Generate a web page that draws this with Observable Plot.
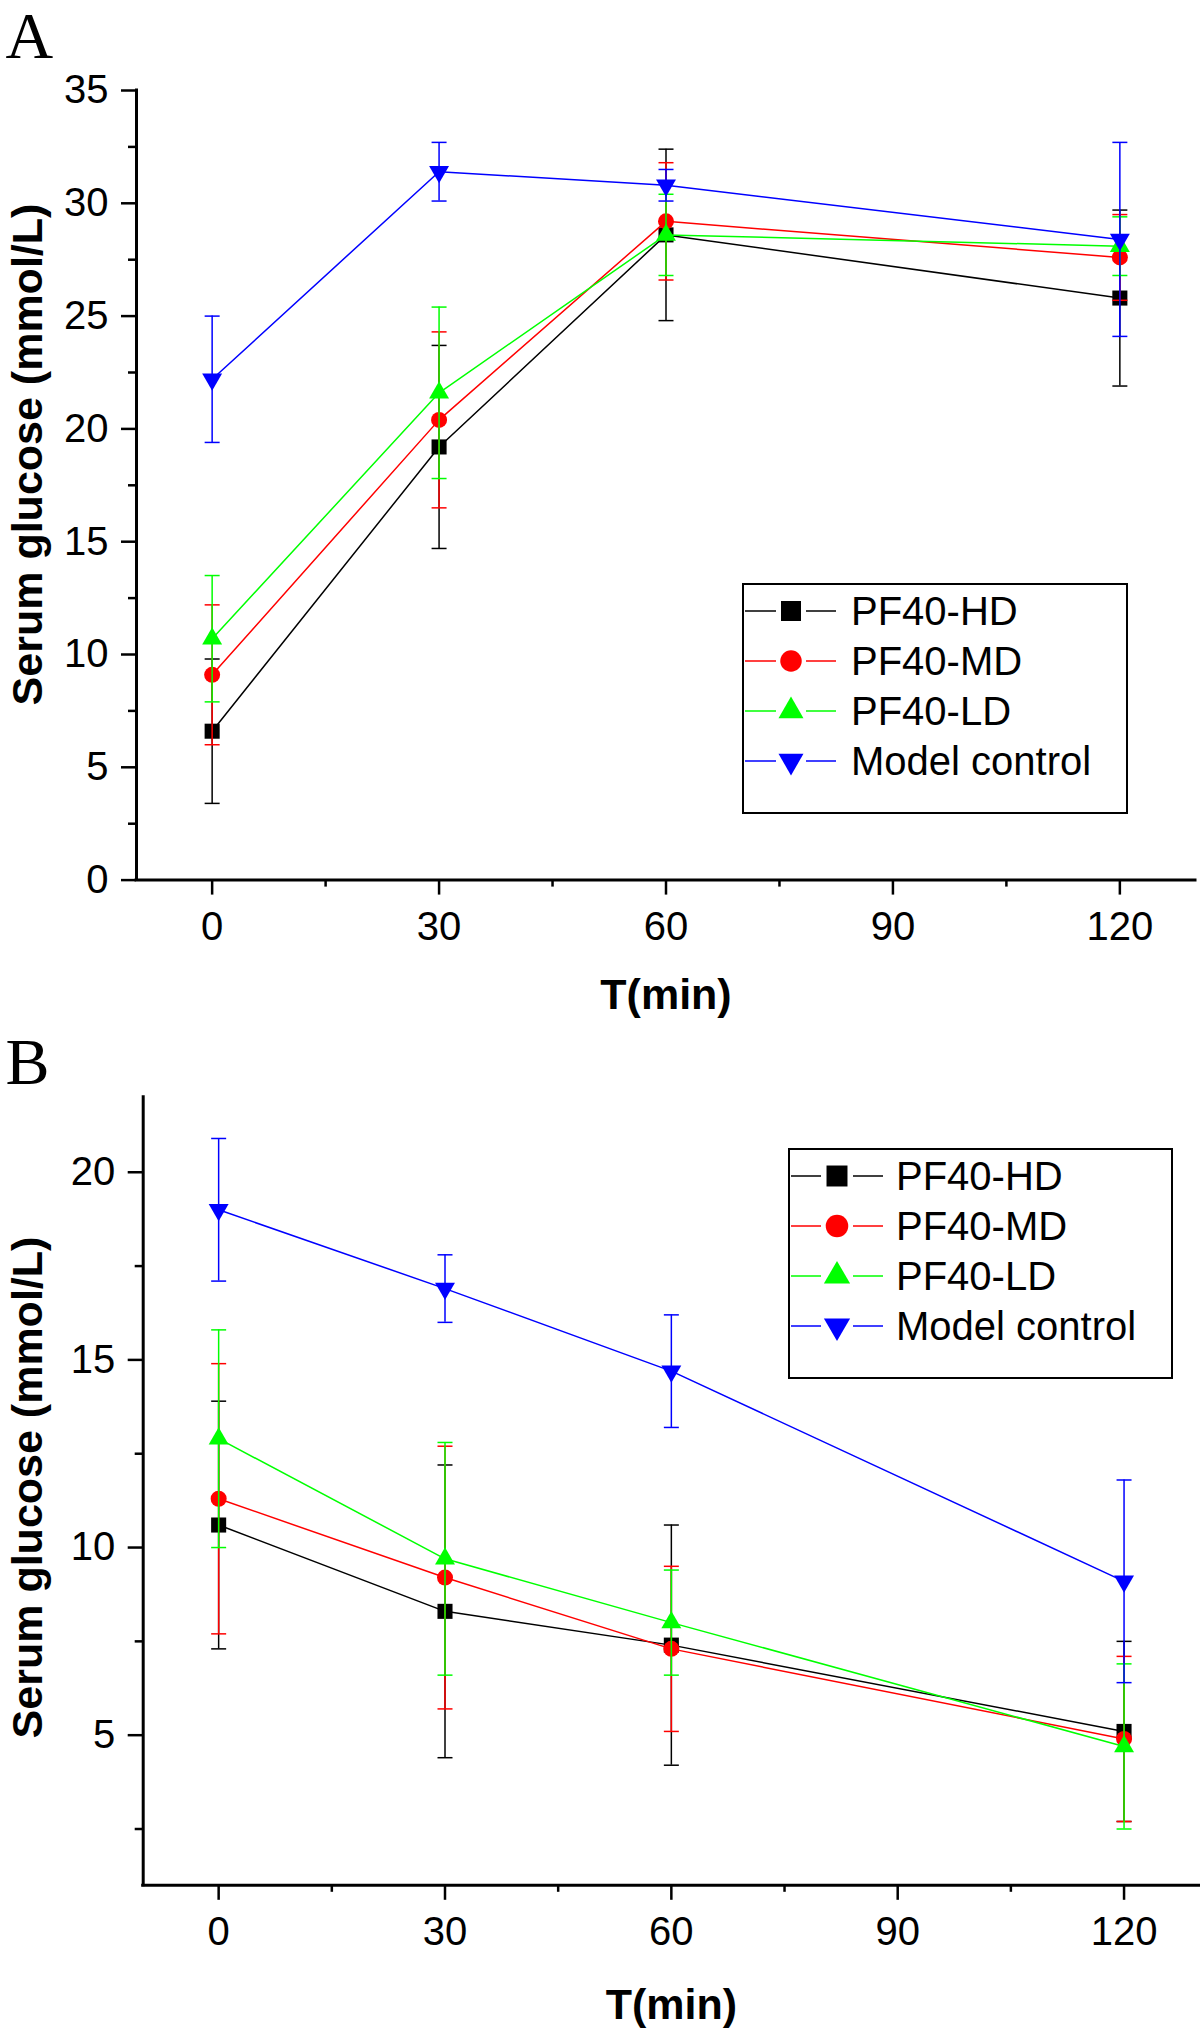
<!DOCTYPE html>
<html>
<head>
<meta charset="utf-8">
<script src="https://cdn.jsdelivr.net/npm/d3@7"></script>
<script src="https://cdn.jsdelivr.net/npm/@observablehq/plot@0.6"></script>
<style>
html, body { margin: 0; padding: 0; background: #fff; }
#root svg { display: block; }
</style>
</head>
<body>
<div id="root"></div>
<script>
// ---------- DATA ----------
const times = [0, 30, 60, 120];
const seriesNames = ["PF40-HD", "PF40-MD", "PF40-LD", "Model control"];
const seriesColors = ["#000000", "#ff0000", "#00ff00", "#0000ff"];
const seriesSymbols = ["square", "circle", "triangle", "triangleDown"];

// Panel A: mean and SD (mmol/L)
const aHD = [6.6, 19.2, 28.6, 25.8];
const aHDsd = [3.2, 4.5, 3.8, 3.9];
const aMD = [9.1, 20.4, 29.2, 27.6];
const aMDsd = [3.1, 3.9, 2.6, 1.9];
const aLD = [10.7, 21.6, 28.6, 28.1];
const aLDsd = [2.8, 3.8, 1.8, 1.3];
const aMC = [22.2, 31.4, 30.8, 28.4];
const aMCsd = [2.8, 1.3, 0.7, 4.3];

// Panel B: mean and SD (mmol/L)
const bHD = [10.6, 8.3, 7.4, 5.1];
const bHDsd = [3.3, 3.9, 3.2, 2.4];
const bMD = [11.3, 9.2, 7.3, 4.9];
const bMDsd = [3.6, 3.5, 2.2, 2.2];
const bLD = [12.9, 9.7, 8.0, 4.7];
const bLDsd = [2.9, 3.1, 1.4, 2.2];
const bMC = [19.0, 16.9, 14.7, 9.1];
const bMCsd = [1.9, 0.9, 1.5, 2.7];

// Axes
const xDomain = [-10, 130];
const xTicks = [0, 30, 60, 90, 120];
const xMinorTicks = [15, 45, 75, 105];
const aYDomain = [0, 35];
const aYTicks = [0, 5, 10, 15, 20, 25, 30, 35];
const aYMinorTicks = [2.5, 7.5, 12.5, 17.5, 22.5, 27.5, 32.5];
const bYDomain = [1, 22];
const bYTicks = [5, 10, 15, 20];
const bYMinorTicks = [2.5, 7.5, 12.5, 17.5];

const xTitle = "T(min)";
const yTitle = "Serum glucose (mmol/L)";

// ---------- SYMBOLS ----------
const SQ3 = Math.sqrt(3);
const triangleDown = {
  draw(ctx, size) {
    const y = Math.sqrt(size / (SQ3 * 3));
    ctx.moveTo(0, 2 * y);
    ctx.lineTo(-SQ3 * y, -y);
    ctx.lineTo(SQ3 * y, -y);
    ctx.closePath();
  }
};
const capSymbol = {
  draw(ctx) { ctx.moveTo(-7.5, 0); ctx.lineTo(7.5, 0); }
};
const symbolMap = { square: d3.symbolSquare, circle: d3.symbolCircle, triangle: d3.symbolTriangle, triangleDown };
const markerR = { square: 8.5, circle: 8, triangle: 7.4, triangleDown: 7.4 };
const legendSize = { square: 400, circle: 363, triangle: 270, triangleDown: 270 };

const SANS = "'Liberation Sans', Arial, Helvetica, sans-serif";
const SERIF = "'Liberation Serif', 'Times New Roman', serif";

function buildPanel(cfg) {
  const rows = [];
  seriesNames.forEach((name, si) => {
    times.forEach((t, i) => rows.push({ series: name, si, t, mean: cfg.means[si][i], sd: cfg.sds[si][i] }));
  });
  const marks = [
    Plot.axisY({ ticks: cfg.yMinor, tickSize: 8, tickFormat: () => "", strokeWidth: 2.5, label: null }),
    Plot.axisY({ ticks: cfg.yTicks, tickSize: 15, tickPadding: 13, fontSize: 40, strokeWidth: 2.5, label: null, tickFormat: d => String(d) }),
    Plot.axisX({ ticks: xMinorTicks, tickSize: 7, tickFormat: () => "", strokeWidth: 2.5, label: null }),
    Plot.axisX({ ticks: xTicks, tickSize: 15, tickPadding: 16, fontSize: 40, strokeWidth: 2.5, label: null, tickFormat: d => String(d) }),
    Plot.ruleX([xDomain[0]], { strokeWidth: 3, strokeLinecap: "square" }),
    Plot.ruleY([cfg.yDomain[0]], { strokeWidth: 3, strokeLinecap: "square" })
  ];
  seriesNames.forEach((name, si) => {
    const d = rows.filter(r => r.si === si);
    const c = seriesColors[si];
    const sym = seriesSymbols[si];
    marks.push(Plot.line(d, { x: "t", y: "mean", stroke: c, strokeWidth: 1.5 }));
    marks.push(Plot.ruleX(d, { x: "t", y1: r => r.mean - r.sd, y2: r => r.mean + r.sd, stroke: c, strokeWidth: 1.5 }));
    marks.push(Plot.dot(d, { x: "t", y: r => r.mean + r.sd, symbol: capSymbol, stroke: c, fill: "none", strokeWidth: 1.5 }));
    marks.push(Plot.dot(d, { x: "t", y: r => r.mean - r.sd, symbol: capSymbol, stroke: c, fill: "none", strokeWidth: 1.5 }));
    marks.push(Plot.dot(d, { x: "t", y: "mean", symbol: symbolMap[sym], r: markerR[sym], fill: c, stroke: "none" }));
  });
  marks.push(Plot.text([cfg.letter], { frameAnchor: "top-left", textAnchor: "start", lineAnchor: "bottom", dx: cfg.letterDx, dy: cfg.letterDy, fontSize: 66, fontFamily: SERIF }));
  marks.push(Plot.text([yTitle], { frameAnchor: "left", rotate: -90, textAnchor: "middle", lineAnchor: "bottom", dx: cfg.yTitleDx, dy: cfg.yTitleDy, fontSize: 43, fontWeight: "bold" }));
  marks.push(Plot.text([xTitle], { frameAnchor: "bottom", textAnchor: "middle", lineAnchor: "bottom", dy: cfg.xTitleDy, fontSize: 43, fontWeight: "bold" }));

  const svg = Plot.plot({
    width: 1200,
    height: cfg.height,
    marginLeft: cfg.ml, marginRight: cfg.mr, marginTop: cfg.mt, marginBottom: cfg.mb,
    x: { domain: xDomain, label: null },
    y: { domain: cfg.yDomain, label: null },
    style: { fontFamily: SANS, background: "white", color: "black", overflow: "visible" },
    marks
  });

  // legend
  const L = cfg.legend;
  const g = d3.select(svg).append("g").attr("font-family", SANS).attr("text-anchor", "start");
  g.append("rect").attr("x", L.x0).attr("y", L.y0).attr("width", L.x1 - L.x0).attr("height", L.y1 - L.y0)
    .attr("fill", "white").attr("stroke", "black").attr("stroke-width", 2);
  seriesNames.forEach((name, si) => {
    const y = L.row0 + si * L.step;
    const c = seriesColors[si];
    const sym = seriesSymbols[si];
    g.append("line").attr("x1", L.lx0).attr("x2", L.mx - L.gap).attr("y1", y).attr("y2", y).attr("stroke", c).attr("stroke-width", 1.5);
    g.append("line").attr("x1", L.mx + L.gap).attr("x2", L.lx1).attr("y1", y).attr("y2", y).attr("stroke", c).attr("stroke-width", 1.5);
    g.append("path").attr("transform", `translate(${L.mx},${y})`).attr("d", d3.symbol(symbolMap[sym], legendSize[sym] * L.scale)()).attr("fill", c);
    g.append("text").attr("x", L.tx).attr("y", y + 0.35 * L.fs).attr("font-size", L.fs)
      .attr("text-anchor", "start").attr("fill", "black").text(name);
  });
  return svg;
}

const root = document.getElementById("root");

root.appendChild(buildPanel({
  means: [aHD, aMD, aLD, aMC], sds: [aHDsd, aMDsd, aLDsd, aMCsd],
  yDomain: aYDomain, yTicks: aYTicks, yMinor: aYMinorTicks,
  height: 1024, ml: 136, mr: 5, mt: 90, mb: 144.4,
  letter: "A", letterDx: -131, letterDy: -33,
  yTitleDx: -95, yTitleDy: -30.8, xTitleDy: 128.4,
  legend: { x0: 743, x1: 1127, y0: 584, y1: 813, row0: 611, step: 50, lx0: 745, lx1: 836, mx: 791, gap: 15, tx: 851, fs: 40, scale: 1 }
}));

root.appendChild(buildPanel({
  means: [bHD, bMD, bLD, bMC], sds: [bHDsd, bMDsd, bLDsd, bMCsd],
  yDomain: bYDomain, yTicks: bYTicks, yMinor: bYMinorTicks,
  height: 1004, ml: 142.7, mr: 1, mt: 72.7, mb: 143.2,
  letter: "B", letterDx: -137.7, letterDy: -13.7,
  yTitleDx: -101.7, yTitleDy: -3.75, xTitleDy: 133.2,
  legend: { x0: 789, x1: 1172, y0: 125, y1: 354, row0: 152, step: 50, lx0: 791, lx1: 883, mx: 837, gap: 16, tx: 896, fs: 40, scale: 1.1 }
}));
</script>
</body>
</html>
